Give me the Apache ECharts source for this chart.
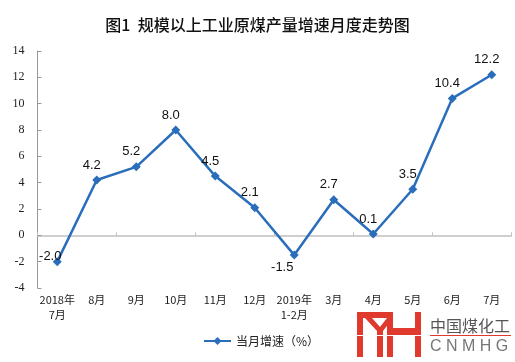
<!DOCTYPE html>
<html><head><meta charset="utf-8">
<script src="https://cdn.jsdelivr.net/npm/echarts@6/dist/echarts.min.js"></script>
<style>html,body{margin:0;padding:0;background:#fff}#c{width:515px;height:362px}</style>
</head><body><div id="c"></div>
<script>
var categories = ['2018年\n7月','8月','9月','10月','11月','12月','2019年\n1-2月','3月','4月','5月','6月','7月'];
var growth = [-2.0, 4.2, 5.2, 8.0, 4.5, 2.1, -1.5, 2.7, 0.1, 3.5, 10.4, 12.2];
var yTicks = {min: -4, max: 14, interval: 2};
var seriesName = '当月增速（%）';
var titleText = '图1  规模以上工业原煤产量增速月度走势图';

var chart = echarts.init(document.getElementById('c'));
var lineColor = '#2a6ebb';
var red = '#e03a2f';
var dataItems = growth.map(function (v, i) {
  var item = {value: v};
  if (i === 0) item.label = {position: 'top', offset: [-7, 10]};
  if (v < 0 && i !== 0) item.label = {position: 'bottom', offset: [-12, -3]};
  return item;
});
chart.setOption({
  animation: false,
  title: {text: titleText, left: 'center', top: 12,
    textStyle: {fontFamily: 'Noto Sans CJK SC', fontSize: 16, fontWeight: 500, color: '#111'}},
  grid: {left: 37.5, right: 3.5, top: 51, bottom: 74},
  legend: {bottom: 10, left: 198, itemWidth: 27, itemHeight: 10, itemGap: 4,
    textStyle: {fontFamily: 'Noto Sans CJK SC', fontSize: 12, color: '#222'},
    data: [seriesName]},
  xAxis: [
    {type: 'category', data: categories, boundaryGap: true,
     axisLine: {onZero: true, lineStyle: {color: '#bfbfbf', width: 1.5}},
     axisTick: {show: true, inside: true, length: 3, lineStyle: {color: '#bfbfbf'}},
     axisLabel: {show: false}},
    {type: 'category', data: categories, boundaryGap: true, position: 'bottom',
     axisLine: {show: false, onZero: false}, axisTick: {show: false},
     axisLabel: {show: true, interval: 0, margin: 4, fontFamily: 'Noto Sans CJK SC', fontSize: 11, lineHeight: 15, color: '#222'}}
  ],
  yAxis: {type: 'value', min: yTicks.min, max: yTicks.max, interval: yTicks.interval,
    axisLine: {show: true, lineStyle: {color: '#999', width: 1}},
    axisTick: {show: true, inside: true, length: 4, lineStyle: {color: '#999'}},
    splitLine: {show: false},
    axisLabel: {margin: 13, fontFamily: 'Liberation Serif', fontSize: 12, color: '#222'}},
  series: [{
    name: seriesName, type: 'line', xAxisIndex: 0, data: dataItems,
    symbol: 'diamond', symbolSize: 9,
    lineStyle: {color: lineColor, width: 2.5},
    itemStyle: {color: lineColor},
    label: {show: true, position: 'top', distance: 4, offset: [-5, 0],
      fontFamily: 'Liberation Sans', fontSize: 13, color: '#111',
      formatter: function (p) { return p.value.toFixed(1); }}
  }],
  graphic: [
    {type: 'rect', shape: {x: 357, y: 312, width: 36, height: 6}, style: {fill: red}},
    {type: 'rect', shape: {x: 357, y: 312, width: 6, height: 45}, style: {fill: red}},
    {type: 'polygon', shape: {points: [[365,318],[372,318],[380,327],[387,318],[393,318],[383,331],[383,357],[377,357],[377,331]]}, style: {fill: red}},
    {type: 'rect', shape: {x: 387, y: 312, width: 6, height: 45}, style: {fill: red}},
    {type: 'rect', shape: {x: 393, y: 328, width: 22, height: 7}, style: {fill: red}},
    {type: 'rect', shape: {x: 415, y: 312, width: 6, height: 45}, style: {fill: red}},
    {type: 'rect', shape: {x: 355, y: 335, width: 68, height: 1}, style: {fill: '#fff'}},
    {type: 'text', style: {x: 430, y: 326, text: '中国煤化工', font: '16px "Noto Sans CJK SC"', fill: '#555', textVerticalAlign: 'middle'}},
    {type: 'rect', shape: {x: 430, y: 335, width: 81, height: 1}, style: {fill: red}},
    {type: 'text', style: {x: 430, y: 347, text: 'C N M H G', font: '16px "Liberation Sans"', fill: '#777', textVerticalAlign: 'middle'}}
  ]
});
</script></body></html>
